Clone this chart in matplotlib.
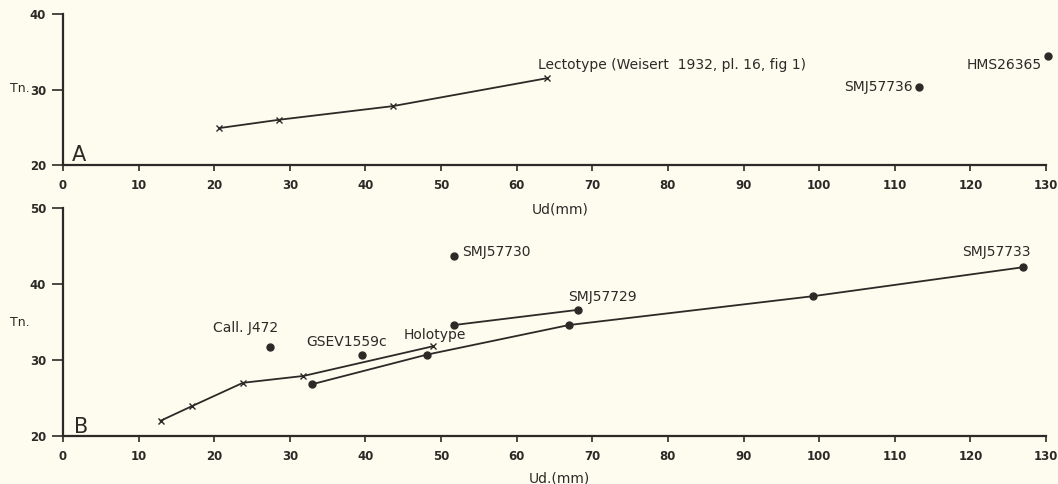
# Tn. vs Ud(mm) growth plot, panels A and B

import matplotlib.pyplot as plt

# ---- data ----
# panel A
lecto_ud = [20.7, 28.6, 43.6, 64.0]
lecto_tn = [24.9, 26.0, 27.8, 31.5]
a_pts_ud = [113.2, 130.2]
a_pts_tn = [30.4, 34.4]
a_pts_names = ["SMJ57736", "HMS26365"]

# panel B
holo_ud = [12.9, 17.0, 23.8, 31.8, 48.9]
holo_tn = [22.0, 23.9, 27.0, 27.9, 31.8]
s733_ud = [32.9, 48.1, 66.9, 99.2, 126.9]
s733_tn = [26.8, 30.7, 34.6, 38.4, 42.2]
s729_ud = [51.7, 68.1]
s729_tn = [34.6, 36.6]
b_pts_ud = [51.7, 39.5, 27.4]
b_pts_tn = [43.7, 30.7, 31.7]

xticks = list(range(0, 140, 10))

bg = "#fdfcef"
ink = "#2b2a27"
fs = 10

plt.rcParams["font.family"] = "DejaVu Sans"

fig = plt.figure(figsize=(10.58, 4.84), dpi=100)
fig.patch.set_facecolor(bg)

axA = fig.add_axes([0.0595, 0.659, 0.9292, 0.312])
axB = fig.add_axes([0.0595, 0.0992, 0.9292, 0.4710])


def style(ax, yticks):
    ax.set_facecolor(bg)
    for s in ["top", "right"]:
        ax.spines[s].set_visible(False)
    for s in ["left", "bottom"]:
        ax.spines[s].set_color(ink)
        ax.spines[s].set_linewidth(1.6)
    ax.set_xlim(0, 130)
    ax.set_ylim(yticks[0], yticks[-1])
    ax.set_xticks(xticks)
    ax.set_yticks(yticks)
    ax.tick_params(axis="x", direction="out", length=4, width=1.2, color=ink,
                   labelsize=8.5, labelcolor=ink, pad=6)
    ax.tick_params(axis="y", direction="out", length=8, width=1.2, color=ink,
                   labelsize=8.5, labelcolor=ink, pad=4)
    for lab in ax.get_xticklabels() + ax.get_yticklabels():
        lab.set_fontweight("bold")


style(axA, [20, 30, 40])
style(axB, [20, 30, 40, 50])

# ---- panel A ----
axA.plot(lecto_ud, lecto_tn, color=ink, lw=1.3, marker="x", ms=4, mew=1.0, clip_on=False)
axA.plot(a_pts_ud, a_pts_tn, ls="none", marker="o", ms=5, color=ink, clip_on=False)
axA.annotate("Lectotype (Weisert  1932, pl. 16, fig 1)", (lecto_ud[-1], lecto_tn[-1]),
             xytext=(-9, 13), textcoords="offset pixels", ha="left", va="center",
             fontsize=fs, color=ink)
axA.annotate(a_pts_names[0], (a_pts_ud[0], a_pts_tn[0]), xytext=(-6, 0),
             textcoords="offset pixels", ha="right", va="center", fontsize=fs, color=ink)
axA.annotate(a_pts_names[1], (a_pts_ud[1], a_pts_tn[1]), xytext=(-6, -9),
             textcoords="offset pixels", ha="right", va="center", fontsize=fs, color=ink,
             annotation_clip=False)
axA.text(1.2, 21.3, "A", fontsize=15, color=ink, ha="left", va="center")

# ---- panel B ----
axB.plot(holo_ud, holo_tn, color=ink, lw=1.3, marker="x", ms=4, mew=1.0)
axB.plot(s733_ud, s733_tn, color=ink, lw=1.3, marker="o", ms=5)
axB.plot(s729_ud, s729_tn, color=ink, lw=1.3, marker="o", ms=5)
axB.plot(b_pts_ud, b_pts_tn, ls="none", marker="o", ms=5, color=ink)

axB.annotate("SMJ57730", (b_pts_ud[0], b_pts_tn[0]), xytext=(8, 4),
             textcoords="offset pixels", ha="left", va="center", fontsize=fs, color=ink)
axB.annotate("SMJ57729", (s729_ud[-1], s729_tn[-1]), xytext=(24, 13),
             textcoords="offset pixels", ha="center", va="center", fontsize=fs, color=ink)
axB.annotate("SMJ57733", (s733_ud[-1], s733_tn[-1]), xytext=(-26, 15),
             textcoords="offset pixels", ha="center", va="center", fontsize=fs, color=ink)
axB.annotate("Call. J472", (b_pts_ud[2], b_pts_tn[2]), xytext=(-25, 19),
             textcoords="offset pixels", ha="center", va="center", fontsize=fs, color=ink)
axB.annotate("GSEV1559c", (b_pts_ud[1], b_pts_tn[1]), xytext=(-15, 13),
             textcoords="offset pixels", ha="center", va="center", fontsize=fs, color=ink)
axB.annotate("Holotype", (holo_ud[-1], holo_tn[-1]), xytext=(2, 11),
             textcoords="offset pixels", ha="center", va="center", fontsize=fs, color=ink)
axB.text(1.5, 21.2, "B", fontsize=15, color=ink, ha="left", va="center")

# axis labels placed like the original figure
fig.text(20 / 1058, 1 - 89 / 484, "Tn.", fontsize=9, color=ink, ha="center", va="center")
fig.text(20 / 1058, 1 - 323 / 484, "Tn.", fontsize=9, color=ink, ha="center", va="center")
fig.text(560 / 1058, 1 - 209 / 484, "Ud(mm)", fontsize=fs, color=ink, ha="center", va="center")
fig.text(559 / 1058, 1 - 478 / 484, "Ud.(mm)", fontsize=fs, color=ink, ha="center", va="center")

plt.savefig("out.png", dpi=100, facecolor=bg)
plt.close()
